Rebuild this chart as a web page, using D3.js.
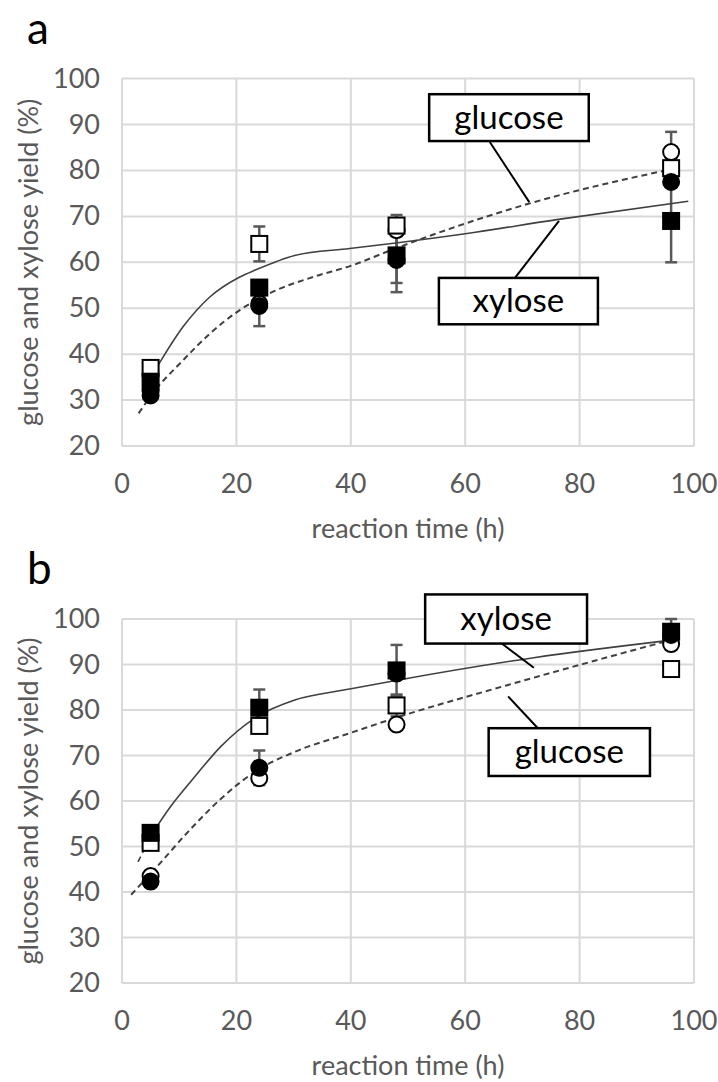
<!DOCTYPE html>
<html lang="en">
<head>
<meta charset="UTF-8">
<title>glucose and xylose yield</title>
<script src="https://d3js.org/d3.v7.min.js"></script>
<style>
    body { margin: 0; background: #fff; }
    svg { display: block; font-family: Lato, "Open Sans", sans-serif; }
    .grid line { stroke: #d9d9d9; stroke-width: 2; }
    .tick-label { fill: #595959; font-size: 27px; }
    .axis-title { fill: #595959; font-size: 27px; }
    .panel-letter { fill: #000; font-size: 44px; }
    .fit { fill: none; stroke: #404040; }
    .err { stroke: #595959; stroke-width: 2.5; }
    .callout rect { fill: #fff; stroke: #000; stroke-width: 2.5; }
    .callout text { font-size: 33px; fill: #000; }
    .leader { stroke: #000; stroke-width: 2; }
</style>
</head>
<body>
<svg id="chart" width="718" height="1082"></svg>
<script>
// ---- data ----
const times = [5, 24, 48, 96];
const xTicks = [0, 20, 40, 60, 80, 100];
const yTicks = [20, 30, 40, 50, 60, 70, 80, 90, 100];

// panel a
const openSquareA = [37, 64, 68, 80.5];
const openSquareErrA = [1, 3.8, 2.3, 1];
const filledSquareA = [34, 54.5, 61.5, 69];
const filledSquareErrA = [1, 1, 6, 9];
const openCircleA = [32, 51, 67, 84];
const openCircleErrA = [1, 1, 1, 4.4];
const filledCircleA = [31, 50.5, 60.5, 77.5];
const filledCircleErrA = [1, 4.4, 7, 1];

// fitted curves panel a
const xyloseFitXA = [5.5, 6.3, 10.7, 15.4, 20.6, 23.3, 30.2, 39.8, 47.9, 60, 76, 99];
const xyloseFitYA = [36, 37.6, 46, 52.5, 56.8, 58.3, 61.5, 63, 64.2, 66.2, 69.3, 73.3];
const glucoseFitXA = [2.9, 5.4, 10.7, 15.4, 20.6, 26.4, 33.4, 40.4, 46.3, 71.2, 96.1];
const glucoseFitYA = [27.1, 31.5, 38.7, 44.5, 49.6, 53.6, 56.8, 59.4, 62.3, 72.8, 80.3];

// panel b
const openSquareB = [50.8, 76.5, 81, 89];
const openSquareErrB = [1, 1, 2.4, 1];
const filledSquareB = [53, 80.5, 88.7, 97.2];
const filledSquareErrB = [1.5, 4, 5.6, 2.8];
const openCircleB = [43.5, 65, 76.8, 94.5];
const openCircleErrB = [0.8, 1, 1, 1];
const filledCircleB = [42.3, 67.3, 88, 96.5];
const filledCircleErrB = [0.8, 3.8, 1, 1];

const xyloseFitXB = [5.2, 8.5, 12.5, 17.3, 23.7, 30.2, 39.8, 47.9, 72, 95.7];
const xyloseFitYB = [52.7, 58.8, 65, 72, 78.6, 82.2, 84.6, 86.5, 91.5, 95.3];
const xyloseFitBackXB = [2.8, 5.2];
const xyloseFitBackYB = [46.6, 52.7];
const glucoseFitXB = [1.6, 5.2, 12.5, 17.3, 23.7, 30.2, 39.8, 47.9, 67.2, 95.7];
const glucoseFitYB = [39.4, 44.3, 54.5, 60.5, 66.8, 70.8, 74.9, 78.3, 85.4, 95.3];

// ---- layout ----
const svg = d3.select("#chart");
const plotLeft = 122, plotRight = 694;

const panels = [
    {
        letter: "a", top: 78.6, bottom: 446, letterY: 44,
        series: [
            { kind: "circle", filled: false, y: openCircleA, err: openCircleErrA },
            { kind: "square", filled: false, y: openSquareA, err: openSquareErrA },
            { kind: "square", filled: true, y: filledSquareA, err: filledSquareErrA },
            { kind: "circle", filled: true, y: filledCircleA, err: filledCircleErrA }
        ],
        fits: [
            { x: xyloseFitXA, y: xyloseFitYA, dash: null, w: 1.6 },
            { x: glucoseFitXA, y: glucoseFitYA, dash: "6,4", w: 2 }
        ],
        callouts: [
            { text: "glucose", x0: 53.7, x1: 81.6, y0: 96.6, y1: 86.4, lx0: 64.3, ly0: 86.2, lx1: 71.2, ly1: 73.1 },
            { text: "xylose", x0: 55.4, x1: 83.2, y0: 56.6, y1: 46.5, lx0: 68.7, ly0: 56.6, lx1: 76.4, ly1: 69 }
        ]
    },
    {
        letter: "b", top: 619, bottom: 983, letterY: 584,
        series: [
            { kind: "square", filled: false, y: openSquareB, err: openSquareErrB },
            { kind: "circle", filled: false, y: openCircleB, err: openCircleErrB },
            { kind: "circle", filled: true, y: filledCircleB, err: filledCircleErrB },
            { kind: "square", filled: true, y: filledSquareB, err: filledSquareErrB }
        ],
        fits: [
            { x: xyloseFitXB, y: xyloseFitYB, dash: null, w: 1.6 },
            { x: xyloseFitBackXB, y: xyloseFitBackYB, dash: "6,4", w: 1.6 },
            { x: glucoseFitXB, y: glucoseFitYB, dash: "6,4", w: 2 }
        ],
        callouts: [
            { text: "xylose", x0: 53, x1: 81.3, y0: 105.4, y1: 94.6, lx0: 66.4, ly0: 94.6, lx1: 72, ly1: 89.3 },
            { text: "glucose", x0: 64.1, x1: 92.3, y0: 76, y1: 65.5, lx0: 72.7, ly0: 76, lx1: 67.5, ly1: 83 }
        ]
    }
];

const x = d3.scaleLinear().domain([0, 100]).range([plotLeft, plotRight]);

panels.forEach(p => {
    const y = d3.scaleLinear().domain([20, 100]).range([p.bottom, p.top]);
    const g = svg.append("g");

    // gridlines
    const grid = g.append("g").attr("class", "grid");
    grid.selectAll(".h").data(yTicks).join("line")
        .attr("x1", plotLeft).attr("x2", plotRight)
        .attr("y1", d => y(d)).attr("y2", d => y(d));
    grid.selectAll(".v").data(xTicks).join("line")
        .attr("x1", d => x(d)).attr("x2", d => x(d))
        .attr("y1", p.top).attr("y2", p.bottom);

    // tick labels
    g.selectAll(".ylab").data(yTicks).join("text")
        .attr("class", "tick-label")
        .attr("x", plotLeft - 22).attr("y", d => y(d) + 9)
        .attr("text-anchor", "end")
        .text(d => d);
    g.selectAll(".xlab").data(xTicks).join("text")
        .attr("class", "tick-label")
        .attr("x", d => x(d)).attr("y", p.bottom + 47)
        .attr("text-anchor", "middle")
        .text(d => d);

    // axis titles
    g.append("text").attr("class", "axis-title")
        .attr("x", 408).attr("y", p.bottom + 92)
        .attr("text-anchor", "middle")
        .text("reaction time (h)");
    g.append("text").attr("class", "axis-title")
        .attr("transform", `translate(38, ${(p.top + p.bottom) / 2}) rotate(-90)`)
        .attr("text-anchor", "middle")
        .text("glucose and xylose yield (%)");

    g.append("text").attr("class", "panel-letter")
        .attr("x", 27).attr("y", p.letterY)
        .text(p.letter);

    // error bars
    p.series.forEach(s => {
        times.forEach((t, i) => {
            const top = y(s.y[i] + s.err[i]), bot = y(s.y[i] - s.err[i]);
            g.append("line").attr("class", "err")
                .attr("x1", x(t)).attr("x2", x(t)).attr("y1", top).attr("y2", bot);
            [top, bot].forEach(v => g.append("line").attr("class", "err")
                .attr("x1", x(t) - 6).attr("x2", x(t) + 6).attr("y1", v).attr("y2", v));
        });
    });

    // fitted curves
    const line = d3.line().curve(d3.curveMonotoneX)
        .x(d => x(d[0])).y(d => y(d[1]));
    p.fits.forEach(f => {
        g.append("path").attr("class", "fit")
            .attr("d", line(f.x.map((v, i) => [v, f.y[i]])))
            .attr("stroke-width", f.w)
            .attr("stroke-dasharray", f.dash);
    });

    // markers
    p.series.forEach(s => {
        times.forEach((t, i) => {
            const cx = x(t), cy = y(s.y[i]);
            if (s.kind === "square") {
                g.append("rect")
                    .attr("x", cx - 8).attr("y", cy - 8)
                    .attr("width", 16).attr("height", 16)
                    .attr("fill", s.filled ? "#000" : "#fff")
                    .attr("stroke", "#000").attr("stroke-width", 2);
            } else {
                g.append("circle")
                    .attr("cx", cx).attr("cy", cy).attr("r", 8)
                    .attr("fill", s.filled ? "#000" : "#fff")
                    .attr("stroke", "#000").attr("stroke-width", 2);
            }
        });
    });

    // callouts
    p.callouts.forEach(c => {
        g.append("line").attr("class", "leader")
            .attr("x1", x(c.lx0)).attr("y1", y(c.ly0))
            .attr("x2", x(c.lx1)).attr("y2", y(c.ly1));
        const cg = g.append("g").attr("class", "callout");
        cg.append("rect")
            .attr("x", x(c.x0)).attr("y", y(c.y0))
            .attr("width", x(c.x1) - x(c.x0)).attr("height", y(c.y1) - y(c.y0));
        cg.append("text")
            .attr("x", (x(c.x0) + x(c.x1)) / 2).attr("y", (y(c.y0) + y(c.y1)) / 2 + 11)
            .attr("text-anchor", "middle")
            .text(c.text);
    });
});
</script>
</body>
</html>
